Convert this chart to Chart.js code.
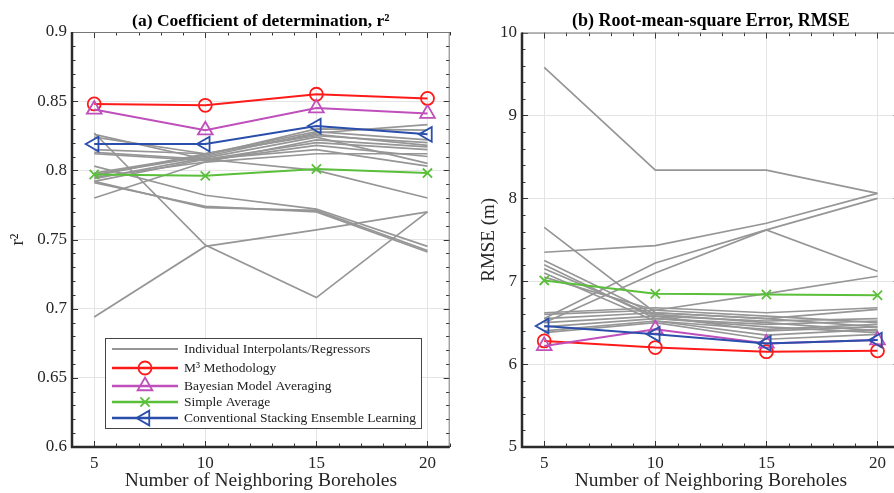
<!DOCTYPE html>
<html>
<head>
<meta charset="utf-8">
<script src="https://cdn.jsdelivr.net/npm/chart.js@4.4.1/dist/chart.umd.min.js"></script>
<style>
  html, body { margin: 0; padding: 0; background: #fff; overflow: hidden; }
  #wrap { position: relative; width: 894px; height: 493px; overflow: hidden; }
  canvas { position: absolute; top: 0; }
  #chartA { left: 0; }
  #chartB { left: 450px; }
</style>
</head>
<body>
<div id="wrap">
  <canvas id="chartA" width="460" height="493"></canvas>
  <canvas id="chartB" width="460" height="493"></canvas>
</div>
<script>
// ---------- DATA ----------
const X_VALUES = [5, 10, 15, 20];
const X_TICKS = [5, 10, 15, 20];

const R2_TICKS = [0.6, 0.65, 0.7, 0.75, 0.8, 0.85, 0.9];
const RMSE_TICKS = [5, 6, 7, 8, 9, 10];

const LEGEND_LABELS = [
  "Individual Interpolants/Regressors",
  "M³ Methodology",
  "Bayesian Model Averaging",
  "Simple Average",
  "Conventional Stacking Ensemble Learning"
];

// (a) r2
const R2_M3   = [0.848, 0.847, 0.855, 0.852];
const R2_BMA  = [0.844, 0.829, 0.845, 0.841];
const R2_SA   = [0.797, 0.796, 0.801, 0.798];
const R2_CSEL = [0.819, 0.819, 0.832, 0.826];
const R2_INDIVIDUAL = [
  [0.826, 0.808, 0.800, 0.780],
  [0.824, 0.812, 0.826, 0.818],
  [0.815, 0.812, 0.828, 0.822],
  [0.813, 0.808, 0.820, 0.815],
  [0.812, 0.807, 0.818, 0.810],
  [0.797, 0.810, 0.827, 0.833],
  [0.796, 0.812, 0.825, 0.820],
  [0.795, 0.806, 0.822, 0.817],
  [0.794, 0.809, 0.824, 0.805],
  [0.792, 0.808, 0.815, 0.803],
  [0.780, 0.806, 0.812, 0.812],
  [0.798, 0.811, 0.830, 0.829],
  [0.827, 0.746, 0.708, 0.770],
  [0.694, 0.745, 0.757, 0.770],
  [0.803, 0.782, 0.772, 0.745],
  [0.792, 0.773, 0.771, 0.742],
  [0.791, 0.774, 0.770, 0.741]
];

// (b) RMSE
const RMSE_M3   = [6.28, 6.20, 6.15, 6.16];
const RMSE_BMA  = [6.22, 6.42, 6.25, 6.29];
const RMSE_SA   = [7.01, 6.85, 6.84, 6.83];
const RMSE_CSEL = [6.46, 6.36, 6.25, 6.29];
const RMSE_INDIVIDUAL = [
  [9.58, 8.34, 8.34, 8.06],
  [7.35, 7.43, 7.70, 8.06],
  [6.55, 7.22, 7.62, 8.00],
  [6.50, 7.10, 7.62, 7.12],
  [7.65, 6.62, 6.55, 6.45],
  [7.25, 6.60, 6.50, 6.40],
  [7.20, 6.55, 6.45, 6.38],
  [7.15, 6.58, 6.40, 6.45],
  [7.10, 6.52, 6.35, 6.42],
  [7.05, 6.65, 6.58, 6.50],
  [6.62, 6.68, 6.62, 6.68],
  [6.60, 6.65, 6.85, 7.06],
  [6.55, 6.62, 6.55, 6.66],
  [6.50, 6.58, 6.52, 6.55],
  [6.45, 6.55, 6.48, 6.52],
  [6.40, 6.52, 6.42, 6.48],
  [6.38, 6.50, 6.30, 6.36]
];

// ---------- STYLES ----------
const SERIF = "'Liberation Serif', 'Times New Roman', serif";
const GRAY = "#969696";
const STYLES = [
  { color: "#ff1a1a", pointStyle: "circle",   rotation: 0,   radius: 6.5 },
  { color: "#bf4fbb", pointStyle: "triangle", rotation: 0,   radius: 8.5 },
  { color: "#5abf3a", pointStyle: "crossRot", rotation: 0,   radius: 6.5 },
  { color: "#2a4eab", pointStyle: "triangle", rotation: -90, radius: 8.5 }
];

const toXY = arr => X_VALUES.map((x, i) => ({ x: x, y: arr[i] }));

function buildDatasets(main, individual) {
  const sets = [];
  individual.forEach((arr, i) => {
    sets.push({
      label: i === 0 ? LEGEND_LABELS[0] : "",
      data: toXY(arr),
      borderColor: GRAY,
      borderWidth: 1.7,
      pointRadius: 0,
      order: 10
    });
  });
  main.forEach((arr, i) => {
    const s = STYLES[i];
    sets.push({
      label: LEGEND_LABELS[i + 1],
      data: toXY(arr),
      borderColor: s.color,
      borderWidth: 2,
      pointStyle: s.pointStyle,
      pointRotation: s.rotation,
      pointRadius: s.radius,
      pointBorderWidth: 1.8,
      pointBorderColor: s.color,
      pointBackgroundColor: "rgba(0,0,0,0)",
      order: 4 - i
    });
  });
  return sets;
}

// ---------- PLUGINS ----------
// MATLAB-like box: inward ticks, thick left/bottom axes
const matlabBox = {
  id: "matlabBox",
  afterDatasetsDraw(chart, args, o) {
    const { ctx, chartArea: a, scales: { x, y } } = chart;
    const line = (x1, y1, x2, y2) => { ctx.beginPath(); ctx.moveTo(x1, y1); ctx.lineTo(x2, y2); ctx.stroke(); };
    ctx.save();
    ctx.strokeStyle = "#333";
    ctx.lineWidth = 1;
    for (let v = Math.ceil(x.min); v <= x.max; v++) {
      const px = Math.round(x.getPixelForValue(v)) + 0.5;
      const len = X_TICKS.includes(v) ? 6 : 3.5;
      line(px, a.bottom, px, a.bottom - len);
      line(px, a.top, px, a.top + len);
    }
    const n = Math.round((y.max - y.min) / o.minorStep);
    for (let i = 0; i <= n; i++) {
      const v = y.min + i * o.minorStep;
      const py = Math.round(y.getPixelForValue(v)) + 0.5;
      const len = i % o.perMajor === 0 ? 6 : 3.5;
      line(a.left, py, a.left + len, py);
      line(a.right, py, a.right - len, py);
    }
    ctx.strokeStyle = "#777";
    ctx.lineWidth = 1;
    line(a.left, a.top + 0.5, a.right, a.top + 0.5);
    line(a.right - 0.5, a.top, a.right - 0.5, a.bottom);
    ctx.strokeStyle = "#2b2b2b";
    ctx.lineWidth = 2.5;
    line(a.left, a.top, a.left, a.bottom + 1);
    line(a.left - 1, a.bottom, a.right, a.bottom);
    ctx.restore();
  }
};

// legend box drawn inside the plot, line + marker samples
const boxLegend = {
  id: "boxLegend",
  afterDraw(chart, args, o) {
    if (!o.show) return;
    const ctx = chart.ctx;
    const nInd = o.individualCount;
    const entries = [0, nInd, nInd + 1, nInd + 2, nInd + 3];
    ctx.save();
    ctx.fillStyle = "#fff";
    ctx.fillRect(o.left, o.top, o.width, o.height);
    ctx.strokeStyle = "#444";
    ctx.lineWidth = 1;
    ctx.strokeRect(o.left + 0.5, o.top + 0.5, o.width, o.height);
    ctx.font = "13.5px " + SERIF;
    ctx.textBaseline = "middle";
    entries.forEach((di, k) => {
      const ds = chart.data.datasets[di];
      const yy = o.rows[k];
      ctx.strokeStyle = ds.borderColor;
      ctx.lineWidth = ds.borderWidth + 0.4;
      ctx.beginPath();
      ctx.moveTo(o.lineX1, yy);
      ctx.lineTo(o.lineX2, yy);
      ctx.stroke();
      if (ds.pointRadius > 0) {
        ctx.fillStyle = "rgba(0,0,0,0)";
        ctx.strokeStyle = ds.pointBorderColor;
        ctx.lineWidth = ds.pointBorderWidth;
        Chart.helpers.drawPoint(ctx, {
          pointStyle: ds.pointStyle,
          rotation: ds.pointRotation,
          radius: ds.pointRadius,
          borderWidth: ds.pointBorderWidth
        }, (o.lineX1 + o.lineX2) / 2, yy);
      }
      ctx.fillStyle = "#222";
      ctx.fillText(ds.label, o.textX, yy);
    });
    ctx.restore();
  }
};

// ---------- CHARTS ----------
function makeChart(id, cfg) {
  return new Chart(document.getElementById(id), {
    type: "line",
    data: { datasets: buildDatasets(cfg.main, cfg.individual) },
    plugins: [matlabBox, boxLegend],
    options: {
      responsive: false,
      animation: false,
      devicePixelRatio: 1,
      layout: { padding: { left: 0, right: 5, top: 0, bottom: 0 } },
      plugins: {
        legend: { display: false },
        tooltip: { enabled: false },
        title: {
          display: true,
          text: cfg.title,
          fullSize: false,
          color: "#000",
          font: { family: SERIF, size: cfg.titleSize, weight: "bold" },
          padding: { top: 11, bottom: 0 }
        },
        matlabBox: { minorStep: cfg.minorStep, perMajor: cfg.perMajor },
        boxLegend: Object.assign({ show: !!cfg.legend, individualCount: cfg.individual.length }, cfg.legend || {})
      },
      scales: {
        x: {
          type: "linear",
          min: 4,
          max: 21,
          afterBuildTicks: s => { s.ticks = X_TICKS.map(v => ({ value: v })); },
          afterFit: s => { s.height = 46; },
          grid: { color: "#e4e4e4", drawTicks: false },
          border: { display: false },
          ticks: { color: "#262626", padding: 6, maxRotation: 0, autoSkip: false,
                   font: { family: SERIF, size: 17 } },
          title: { display: true, text: "Number of Neighboring Boreholes", color: "#262626",
                   font: { family: SERIF, size: 19.5 }, padding: { top: 0, bottom: 0 } }
        },
        y: {
          type: "linear",
          min: cfg.yTicks[0],
          max: cfg.yTicks[cfg.yTicks.length - 1],
          afterBuildTicks: s => { s.ticks = cfg.yTicks.map(v => ({ value: v })); },
          afterFit: s => { s.width = 72; },
          grid: { color: "#e4e4e4", drawTicks: false },
          border: { display: false },
          ticks: { color: "#262626", padding: 5, callback: v => String(+v.toFixed(2)),
                   font: { family: SERIF, size: 17 } },
          title: { display: true, text: cfg.yTitle, color: "#262626",
                   font: { family: SERIF, size: 19 }, padding: { top: cfg.yTitlePad, bottom: 0 } }
        }
      }
    }
  });
}

makeChart("chartA", {
  title: "(a) Coefficient of determination, r²",
  titleSize: 17.5,
  yTitle: "r²",
  yTitlePad: 7,
  yTicks: R2_TICKS,
  minorStep: 0.01,
  perMajor: 5,
  main: [R2_M3, R2_BMA, R2_SA, R2_CSEL],
  individual: R2_INDIVIDUAL,
  legend: {
    left: 105, top: 338, width: 316, height: 90,
    lineX1: 112, lineX2: 178, textX: 184,
    rows: [349, 368, 386, 402, 418]
  }
});

makeChart("chartB", {
  title: "(b) Root-mean-square Error, RMSE",
  titleSize: 18,
  yTitle: "RMSE (m)",
  yTitlePad: 28,
  yTicks: RMSE_TICKS,
  minorStep: 0.2,
  perMajor: 5,
  main: [RMSE_M3, RMSE_BMA, RMSE_SA, RMSE_CSEL],
  individual: RMSE_INDIVIDUAL
});
</script>
</body>
</html>
